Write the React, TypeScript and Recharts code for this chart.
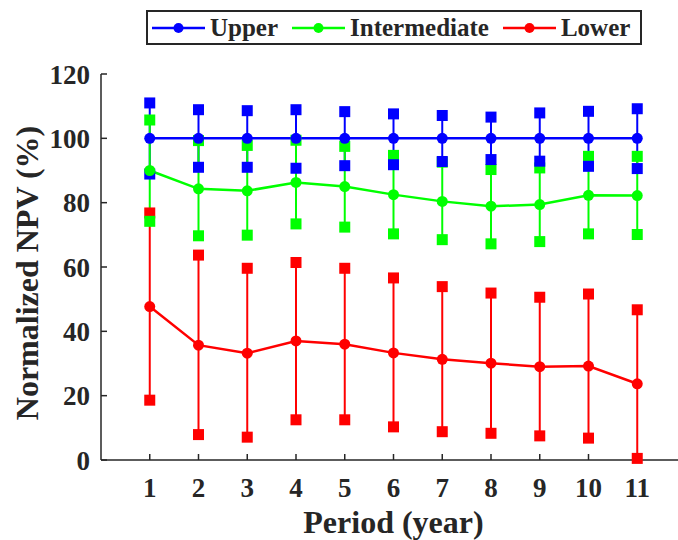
import React from 'react';
import { ComposedChart, Line, Scatter, XAxis, YAxis, ErrorBar, Legend, Label } from 'recharts';

const periods = [1, 2, 3, 4, 5, 6, 7, 8, 9, 10, 11];
const upperMean = [100, 100, 100, 100, 100, 100, 100, 100, 100, 100, 100];
const upperHigh = [111.0, 108.9, 108.6, 108.9, 108.3, 107.6, 107.1, 106.6, 107.9, 108.4, 109.2];
const upperLow = [88.9, 91.0, 91.0, 90.7, 91.5, 91.8, 92.8, 93.4, 92.9, 91.3, 90.6];
const interMean = [90.0, 84.3, 83.7, 86.3, 85.0, 82.5, 80.4, 78.9, 79.4, 82.3, 82.2];
const interHigh = [105.7, 99.3, 97.8, 99.4, 97.5, 94.7, 92.6, 90.3, 90.8, 94.4, 94.4];
const interLow = [74.2, 69.7, 69.9, 73.4, 72.4, 70.3, 68.5, 67.2, 67.9, 70.3, 70.1];
const lowerMean = [47.7, 35.7, 33.2, 37.0, 36.0, 33.3, 31.3, 30.1, 29.0, 29.2, 23.7];
const lowerHigh = [76.8, 63.7, 59.6, 61.4, 59.6, 56.6, 53.9, 51.9, 50.6, 51.6, 46.7];
const lowerLow = [18.6, 7.9, 7.1, 12.5, 12.5, 10.3, 8.8, 8.3, 7.5, 6.8, 0.5];
const yTicks = [0, 20, 40, 60, 80, 100, 120];
const xTicks = [1, 2, 3, 4, 5, 6, 7, 8, 9, 10, 11];

const seriesNames = ['Upper', 'Intermediate', 'Lower'];
const seriesKeys = ['upper', 'inter', 'lower'];
const seriesColors = ['#0000FF', '#00FF00', '#FF0000'];
const means = [upperMean, interMean, lowerMean];
const highs = [upperHigh, interHigh, lowerHigh];
const lows = [upperLow, interLow, lowerLow];

const data = periods.map((p, i) => {
  const row: any = { period: p };
  seriesKeys.forEach((k, s) => {
    const m = means[s][i];
    row[k + 'Mean'] = m;
    row[k + 'High'] = highs[s][i];
    row[k + 'Low'] = lows[s][i];
    row[k + 'Err'] = [m - lows[s][i], highs[s][i] - m];
  });
  return row;
});

const FONT = '"Liberation Serif", "Times New Roman", serif';
const INK = '#262626';

const makeSquare = (color: string) => (props: any) => {
  const { cx, cy } = props;
  if (cx == null || cy == null) return <g />;
  return <rect x={cx - 5.5} y={cy - 5.5} width={11} height={11} fill={color} />;
};

const LegendBox = () => (
  <div
    style={{
      boxSizing: 'border-box',
      width: 496,
      height: 35,
      border: `2px solid ${INK}`,
      background: '#fff',
      display: 'flex',
      alignItems: 'center',
      paddingLeft: 4,
      fontFamily: FONT,
      fontWeight: 'bold',
      fontSize: 25,
      color: INK,
      whiteSpace: 'nowrap',
    }}
  >
    {seriesNames.map((name, s) => (
      <div key={name} style={{ display: 'flex', alignItems: 'center', marginRight: s < 2 ? 14 : 0 }}>
        <svg width={53} height={12} style={{ display: 'block' }}>
          <line x1={0} y1={6} x2={53} y2={6} stroke={seriesColors[s]} strokeWidth={2.5} />
          <circle cx={26.5} cy={6} r={5} fill={seriesColors[s]} />
        </svg>
        <span style={{ marginLeft: 5, lineHeight: '30px' }}>{name}</span>
      </div>
    ))}
  </div>
);

const tickStyle = { fontFamily: FONT, fontWeight: 'bold', fontSize: 27, fill: INK };

export default function App() {
  return (
    <div style={{ position: 'absolute', left: 0, top: 0, width: 678, height: 540, overflow: 'hidden', background: '#fff' }}>
      <ComposedChart width={700} height={540} data={data} margin={{ top: 74, right: 14, bottom: 0, left: 0 }}>
        <XAxis
          xAxisId="bottom"
          dataKey="period"
          type="number"
          domain={[0, 12]}
          ticks={xTicks}
          orientation="bottom"
          height={80}
          tickSize={-6}
          tickMargin={24}
          tick={tickStyle}
          axisLine={{ stroke: INK, strokeWidth: 1.5 }}
          tickLine={{ stroke: INK, strokeWidth: 1.5 }}
        >
          <Label
            content={(props: any) => {
              const vb = props.viewBox;
              return (
                <text x={vb.x + vb.width / 2} y={vb.y + 73} textAnchor="middle" fontFamily={FONT} fontWeight="bold" fontSize={32} fill={INK}>
                  Period (year)
                </text>
              );
            }}
          />
        </XAxis>
        <XAxis
          xAxisId="top"
          dataKey="period"
          type="number"
          domain={[0, 12]}
          ticks={xTicks}
          orientation="top"
          height={0}
          tickSize={-6}
          tick={false}
          axisLine={{ stroke: INK, strokeWidth: 1.5 }}
          tickLine={{ stroke: INK, strokeWidth: 1.5 }}
        />
        <YAxis
          yAxisId="left"
          type="number"
          domain={[0, 120]}
          ticks={yTicks}
          width={101}
          tickSize={-6}
          tickMargin={17}
          tick={tickStyle}
          axisLine={{ stroke: INK, strokeWidth: 1.5 }}
          tickLine={{ stroke: INK, strokeWidth: 1.5 }}
        >
          <Label
            content={(props: any) => {
              const vb = props.viewBox;
              const cx = vb.x + 38;
              const cy = vb.y + vb.height / 2 + 6;
              return (
                <text x={cx} y={cy} transform={`rotate(-90 ${cx} ${cy})`} textAnchor="middle" fontFamily={FONT} fontWeight="bold" fontSize={32} fill={INK}>
                  Normalized NPV (%)
                </text>
              );
            }}
          />
        </YAxis>
        <YAxis
          yAxisId="right"
          orientation="right"
          type="number"
          domain={[0, 120]}
          ticks={yTicks}
          width={0}
          tickSize={-6}
          tick={false}
          axisLine={{ stroke: INK, strokeWidth: 1.5 }}
          tickLine={{ stroke: INK, strokeWidth: 1.5 }}
        />
        <Legend verticalAlign="middle" wrapperStyle={{ top: 10, left: 146, width: 496, height: 35 }} content={() => <LegendBox />} />
        {seriesKeys.map((k, s) => (
          <Line
            key={k + 'line'}
            xAxisId="bottom"
            yAxisId="left"
            dataKey={k + 'Mean'}
            name={seriesNames[s]}
            stroke={seriesColors[s]}
            strokeWidth={2.5}
            dot={{ r: 5.5, fill: seriesColors[s], stroke: seriesColors[s], strokeWidth: 0 }}
            activeDot={false}
            isAnimationActive={false}
          >
            <ErrorBar dataKey={k + 'Err'} width={0} stroke={seriesColors[s]} strokeWidth={2} direction="y" />
          </Line>
        ))}
        {seriesKeys.map((k, s) => (
          <Scatter
            key={k + 'hi'}
            xAxisId="bottom"
            yAxisId="left"
            dataKey={k + 'High'}
            fill={seriesColors[s]}
            shape={makeSquare(seriesColors[s])}
            isAnimationActive={false}
            legendType="none"
          />
        ))}
        {seriesKeys.map((k, s) => (
          <Scatter
            key={k + 'lo'}
            xAxisId="bottom"
            yAxisId="left"
            dataKey={k + 'Low'}
            fill={seriesColors[s]}
            shape={makeSquare(seriesColors[s])}
            isAnimationActive={false}
            legendType="none"
          />
        ))}
      </ComposedChart>
    </div>
  );
}
